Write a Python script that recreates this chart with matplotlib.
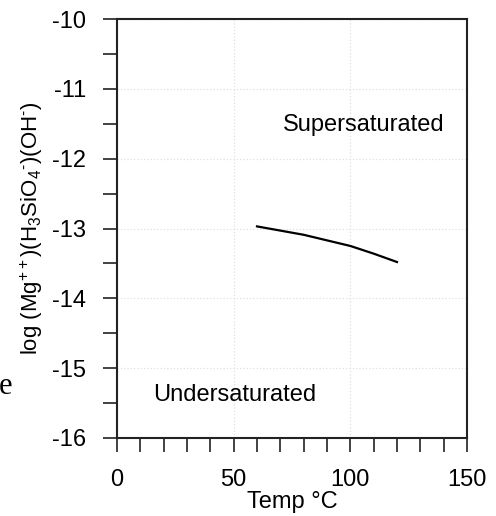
import matplotlib
matplotlib.use("Agg")
import matplotlib.pyplot as plt
from matplotlib.ticker import MultipleLocator

plt.rcParams["font.family"] = ["Liberation Sans", "DejaVu Sans"]
plt.rcParams["mathtext.fontset"] = "custom"
plt.rcParams["mathtext.rm"] = "Liberation Sans"
plt.rcParams["mathtext.it"] = "Liberation Sans:italic"
plt.rcParams["axes.unicode_minus"] = False

# saturation curve
temp_c = [60, 70, 80, 90, 100, 110, 120]
log_q = [-12.97, -13.03, -13.09, -13.17, -13.25, -13.36, -13.48]

x_ticks = [0, 50, 100, 150]
y_ticks = [-16, -15, -14, -13, -12, -11, -10]

fig = plt.figure(figsize=(4.96, 5.16), dpi=100)
ax = fig.add_axes([117 / 496, 1 - 438 / 516, 350 / 496, 419 / 516])

ax.plot(temp_c, log_q, color="black", linewidth=1.6)

ax.set_xlim(0, 150)
ax.set_ylim(-16, -10)
ax.set_xticks(x_ticks)
ax.set_yticks(y_ticks)
ax.xaxis.set_minor_locator(MultipleLocator(10))
ax.yaxis.set_minor_locator(MultipleLocator(0.5))
ax.tick_params(which="both", direction="out", length=10, width=1.2, color="#222222",
               labelsize=17, pad=12)
ax.grid(True, which="major", color="#e0e0e0", linestyle=":", linewidth=0.9)
for s in ax.spines.values():
    s.set_linewidth(1.5)
    s.set_color("#222222")

ax.set_xlabel("Temp °C", fontsize=17, labelpad=0)
ax.set_ylabel(r"log (Mg$^{++}$)(H$_3$SiO$_4$$^{\text{-}}$)(OH$^{\text{-}}$)",
              fontsize=16, labelpad=5)

ax.text(71, -11.52, "Supersaturated", fontsize=17, va="center", ha="left")
ax.text(15.4, -15.38, "Undersaturated", fontsize=17, va="center", ha="left")

fig.text(-1 / 496, 1 - 386 / 516, "e", fontsize=22, family="Liberation Serif",
         ha="left", va="center")

fig.savefig("out.png", dpi=100)
